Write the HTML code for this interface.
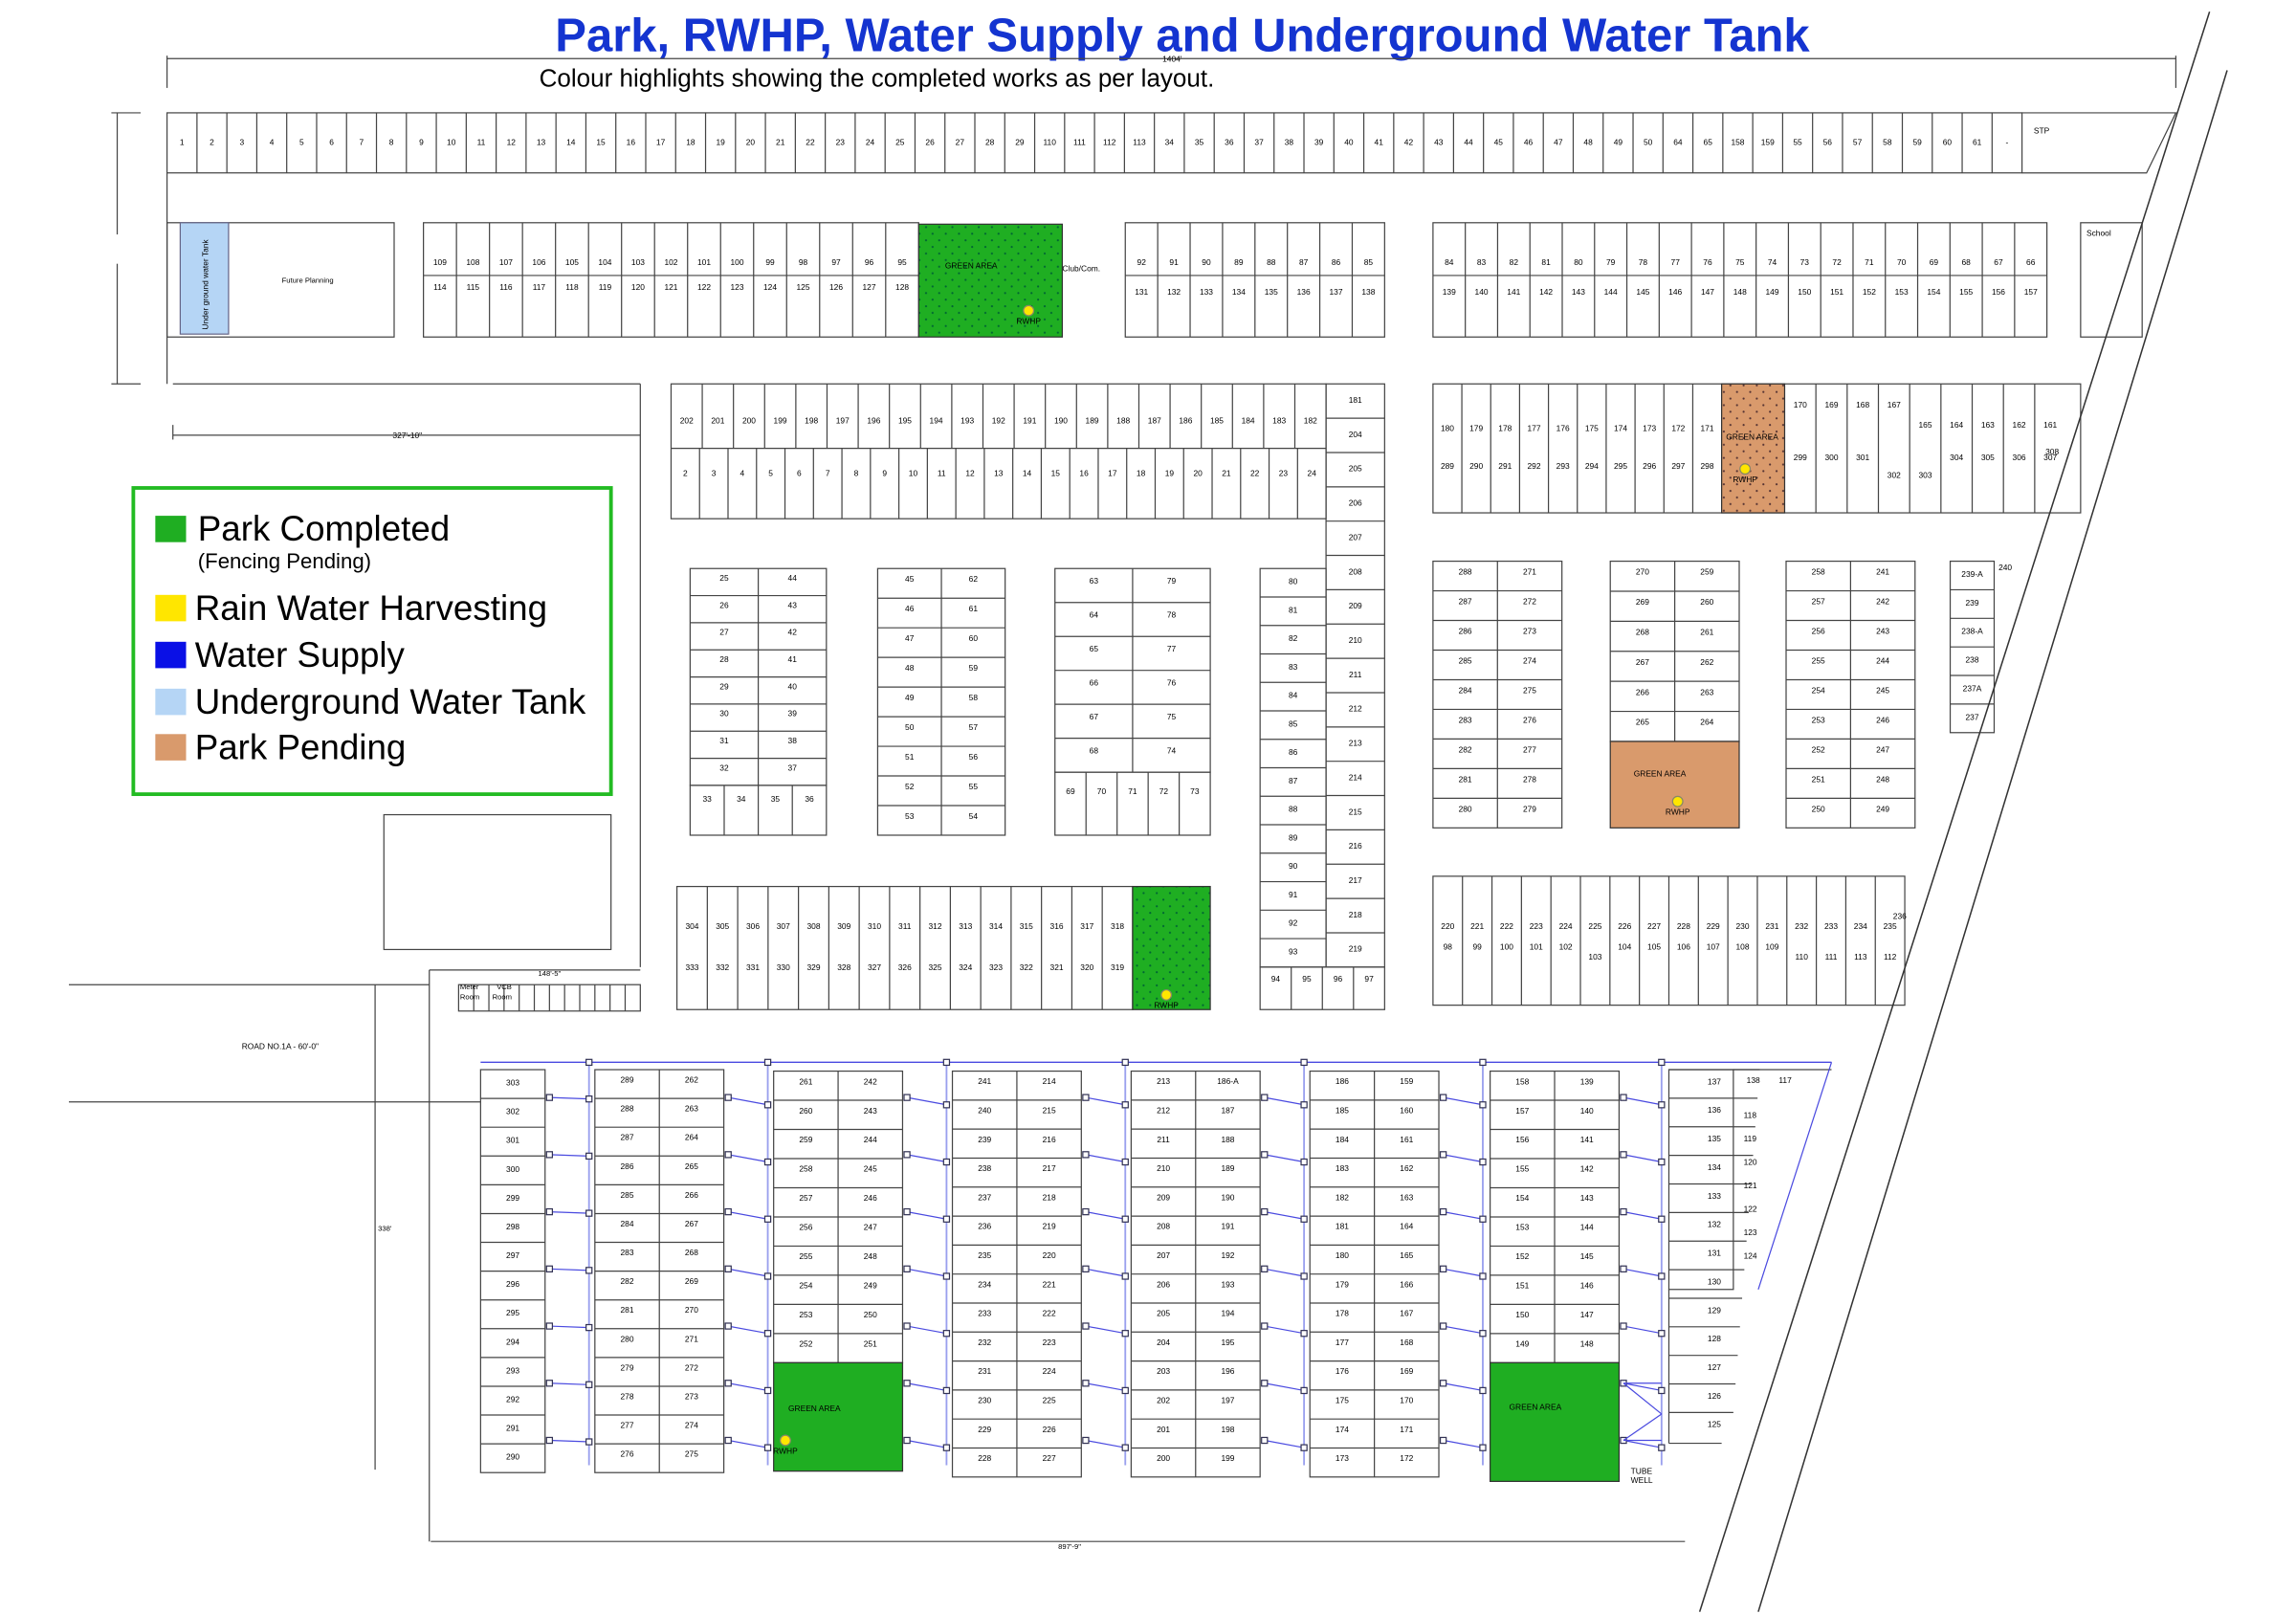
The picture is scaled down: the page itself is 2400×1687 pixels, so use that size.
<!DOCTYPE html>
<html><head><meta charset="utf-8"><style>
html,body{margin:0;padding:0;background:#fff;width:2400px;height:1687px;overflow:hidden}
svg{display:block}
text{font-family:"Liberation Sans",Arial,sans-serif}
</style></head><body>
<svg id="s" xmlns="http://www.w3.org/2000/svg" width="2400" height="1687" viewBox="0 0 1567 1101.5" preserveAspectRatio="none" overflow="hidden">
<defs>
<pattern id="dots" width="9" height="9" patternUnits="userSpaceOnUse"><rect width="9" height="9" fill="#1fae22"/><circle cx="2" cy="2" r="0.7" fill="#063"/><circle cx="6.5" cy="6.5" r="0.7" fill="#063"/></pattern>
<pattern id="odots" width="9" height="9" patternUnits="userSpaceOnUse"><rect width="9" height="9" fill="#d99a6c"/><circle cx="2" cy="2" r="0.7" fill="#533"/><circle cx="6.5" cy="6.5" r="0.7" fill="#533"/></pattern>
</defs>
<rect width="1567" height="1101" fill="#fff"/>
<text x="807" y="35" text-anchor="middle" font-size="32" font-weight="bold" fill="#1434d0">Park, RWHP, Water Supply and Underground Water Tank</text>
<text x="368" y="59" font-size="17" fill="#000">Colour highlights showing the completed works as per layout.</text>
<g id="g" stroke="#444" stroke-width="0.8" fill="none"></g>
<g id="t" font-size="5.5" fill="#000"></g>
<rect x="91" y="333" width="326" height="209" fill="#fff" stroke="#22bb22" stroke-width="2.5"/>
<rect x="106" y="352" width="21" height="18" fill="#1fae22"/>
<text x="135" y="369" font-size="24">Park Completed</text>
<text x="135" y="388" font-size="14.5">(Fencing Pending)</text>
<rect x="106" y="406" width="21" height="18" fill="#ffe600"/>
<text x="133" y="423" font-size="24">Rain Water Harvesting</text>
<rect x="106" y="438" width="21" height="18" fill="#0a10e6"/>
<text x="133" y="455" font-size="24">Water Supply</text>
<rect x="106" y="470" width="21" height="18" fill="#b5d5f5"/>
<text x="133" y="487" font-size="24">Underground Water Tank</text>
<rect x="106" y="501" width="21" height="18" fill="#d99a6c"/>
<text x="133" y="518" font-size="24">Park Pending</text>
</svg>
<script>
var NS="http://www.w3.org/2000/svg",G=document.getElementById('g'),T=document.getElementById('t');
function el(p,n,a){var e=document.createElementNS(NS,n);for(var k in a)e.setAttribute(k,a[k]);p.appendChild(e);return e}
function R(x,y,w,h,f,s){return el(G,'rect',{x:x,y:y,width:w,height:h,fill:f||'none',stroke:s||'#444'})}
function L(x1,y1,x2,y2,c,w){return el(G,'line',{x1:x1,y1:y1,x2:x2,y2:y2,stroke:c||'#444','stroke-width':w||0.8})}
function X(x,y,s,sz,anc){var e=el(T,'text',{x:x,y:y,'font-size':sz||5.5});if(anc)e.setAttribute('text-anchor',anc);e.textContent=s;return e}
function rng(a,b){var r=[];if(a<=b)for(var i=a;i<=b;i++)r.push(i);else for(var i=a;i>=b;i--)r.push(i);return r}
function hrow(x,y,w,h,labs,ty){var cw=w/labs.length;R(x,y,w,h);for(var i=0;i<labs.length;i++){if(i)L(x+i*cw,y,x+i*cw,y+h);X(x+i*cw+cw/2,ty,labs[i],5.5,'middle')}}
function vblock(x,y,w,h,left,right){var n=left.length,rh=h/n;R(x,y,w,h);L(x+w/2,y,x+w/2,y+h);for(var i=0;i<n;i++){if(i)L(x,y+i*rh,x+w,y+i*rh);X(x+w/4,y+i*rh+rh*0.45,left[i],5.5,'middle');if(right&&right[i]!==undefined)X(x+3*w/4,y+i*rh+rh*0.45,right[i],5.5,'middle')}}
function vcol(x,y,w,h,labs){var n=labs.length,rh=h/n;R(x,y,w,h);for(var i=0;i<n;i++){if(i)L(x,y+i*rh,x+w,y+i*rh);X(x+w/2,y+i*rh+rh*0.55,labs[i],5.5,'middle')}}
function green(x,y,w,h,fill,rx,ry,lab,lx,ly){R(x,y,w,h,fill,'#333');X(lx,ly,lab||'GREEN AREA',5.5);el(G,'circle',{cx:rx,cy:ry,r:3.5,fill:'#ffe600',stroke:'#886'});X(rx,ry+9,'RWHP',5.5,'middle')}

L(114,40,1485,40);L(114,38,114,60);L(1485,38,1485,60);X(800,42,"1404'",5.5,'middle');
var topRow=rng(1,29).concat([110,111,112,113,34,35,36,37,38,39,40,41,42,43,44,45,46,47,48,49,50,64,65,158,159,55,56,57,58,59,60,61,'-']);
hrow(114,77,1266,41,topRow,99);
el(G,'path',{d:'M1380 77 L1485 77 L1465 118 L1380 118'});X(1388,91,'STP');
L(114,118,114,262);L(80,77,80,160);L(80,180,80,262);L(76,77,96,77);L(76,262,96,262);
R(114,152,155,78);R(123,152,33,76,'#b5d5f5','#668');
var tt=X(0,0,'Under ground water Tank',5.5);tt.setAttribute('transform','translate(142,225) rotate(-90)');
X(210,193,'Future Planning',5,'middle');
var b1=rng(109,95),b2=rng(114,128);
R(289,152,338,78);var cw=338/15;for(var i=0;i<15;i++){if(i)L(289+i*cw,152,289+i*cw,230);X(289+i*cw+cw/2,181,b1[i],5.5,'middle');X(289+i*cw+cw/2,198,b2[i],5.5,'middle')}L(289,188,627,188);
green(627,153,98,77,'url(#dots)',702,212,'GREEN AREA',645,183);X(725,185,'Club/Com.');
function tb(x,w,a,b){var n=a.length,cw=w/n;R(x,152,w,78);L(x,188,x+w,188);for(var i=0;i<n;i++){if(i)L(x+i*cw,152,x+i*cw,230);X(x+i*cw+cw/2,181,a[i],5.5,'middle');X(x+i*cw+cw/2,201,b[i],5.5,'middle')}}
tb(768,177,rng(92,85),rng(131,138));
tb(978,419,[84,83,82,81,80,79,78,77,76,75,74,73,72,71,70,69,68,67,66],rng(139,157));
R(1420,152,42,78);X(1424,161,'School');
L(118,262,437,262);L(437,262,437,660);L(118,297,437,297);L(118,290,118,300);X(278,299,"327'-10\"",5.5,'middle');
R(262,556,155,92);
var a=[202,201,200,199,198,197,196,195,194,193,192,191,190,189,188,187,186,185,184,183,182];
R(458,262,447,92);var cw=447/21;for(var i=0;i<21;i++){if(i)L(458+i*cw,262,458+i*cw,306);X(458+i*cw+cw/2,289,a[i],5.5,'middle')}
L(458,306,905,306);var bb=rng(2,24),cw2=447/23;for(var i=0;i<23;i++){if(i)L(458+i*cw2,306,458+i*cw2,354);X(458+i*cw2+cw2/2,325,bb[i],5.5,'middle')}
vcol(905,262,40,398,[181].concat(rng(204,219)));
R(978,262,442,88);var l1=[180,179,178,177,176,175,174,173,172,171],l2=[289,290,291,292,293,294,295,296,297,298];
var cw=197/10;for(var i=0;i<10;i++){if(i)L(978+i*cw,262,978+i*cw,350);X(978+i*cw+cw/2,294,l1[i],5.5,'middle');X(978+i*cw+cw/2,320,l2[i],5.5,'middle')}
var r1=[170,169,168,167,165,164,163,162,161],r2=[299,300,301,302,303,304,305,306,307];var cw=192/9;
for(var i=0;i<9;i++){if(i)L(1218+i*cw,262,1218+i*cw,350);X(1218+i*cw+cw/2,i<4?278:292,r1[i],5.5,'middle');X(1218+i*cw+cw/2,i==3||i==4?326:314,r2[i],5.5,'middle')}
green(1175,262,43,88,'url(#odots)',1191,320,'GREEN AREA',1178,300);X(1396,310,'308');
vblock(471,388,93,148,rng(25,32),rng(44,37));hrow(471,536,93,34,[33,34,35,36],547);
vblock(599,388,87,182,rng(45,53),rng(62,54));
vblock(720,388,106,139,rng(63,68),rng(79,74));hrow(720,527,106,43,[69,70,71,72,73],542);
vcol(860,388,45,272,rng(80,93));hrow(860,660,85,29,[94,95,96,97],670);
vblock(978,383,88,182,rng(288,280),rng(271,279));
vblock(1099,383,88,123,rng(270,265),rng(259,264));
green(1099,506,88,59,'#d99a6c',1145,547,'GREEN AREA',1115,530);
vblock(1219,383,88,182,rng(258,250),rng(241,249));
vcol(1331,383,30,117,['239-A','239','238-A','238','237A','237']);X(1364,389,'240');
(function(){var a=rng(304,318),b=rng(333,319),x=462,w=311,cw=w/15;R(x,605,w,84);for(var i=0;i<15;i++){if(i)L(x+i*cw,605,x+i*cw,689);X(x+i*cw+cw/2,634,a[i],5.5,'middle');X(x+i*cw+cw/2,662,b[i],5.5,'middle')}})();
green(773,605,53,84,'url(#dots)',796,679,'',0,0);
(function(){var a=rng(220,235),b=[98,99,100,101,102,103,104,105,106,107,108,109,110,111,113,112],x=978,w=322,cw=w/16;R(x,598,w,88);for(var i=0;i<16;i++){if(i)L(x+i*cw,598,x+i*cw,686);X(x+i*cw+cw/2,634,a[i],5.5,'middle');X(x+i*cw+cw/2,i==5||i>=12?655:648,b[i],5.5,'middle')}X(1292,627,'236');})();
hrow(313,672,124,18,['','','','','','','','','','','',''],684);L(293,662,437,662);X(375,666,"148'-5\"",5,'middle');
X(314,675,'Meter',5);X(314,682,'Room',5);X(339,675,'VCB',5);X(336,682,'Room',5);
L(47,672,293,672);L(47,752,328,752);L(293,662,293,1052);X(165,716,'ROAD NO.1A - 60\'-0"',5.5);
L(256,672,256,1003);X(258,840,"338'",5);
L(294,1052,1150,1052);X(730,1057,"897'-9\"",5,'middle');
L(1160,1100,1508,8,'#333',1);L(1200,1100,1520,48,'#333',1);
vcol(328,730,44,275,rng(303,290));
vblock(406,730,88,275,rng(289,276),rng(262,275));
vblock(528,731,88,199,rng(261,252),rng(242,251));green(528,930,88,74,'#1fae22',536,983,'GREEN AREA',538,963);
vblock(650,731,88,277,rng(241,228),rng(214,227));
vblock(772,731,88,277,rng(213,200),['186-A'].concat(rng(187,199)));
vblock(894,731,88,277,rng(186,173),rng(159,172));
vblock(1017,731,88,199,rng(158,149),rng(139,148));green(1017,930,88,81,'#1fae22',0,-50,'GREEN AREA',1030,962);
X(1113,1006,'TUBE');X(1113,1012,'WELL');
(function(){var x=1139,y=730,ls=[137,136,135,134,133,132,131,130,129,128,127,126,125];R(x,y,44,150);for(var i=0;i<13;i++){var yy=y+i*19.5;L(x,yy,x+62-i*1.5,yy);X(x+31,yy+10,ls[i],5.5,'middle')}
L(1183,730,1250,730);var rs=[138,117,118,119,120,121,122,123,124];for(var i=0;i<9;i++)X(i<2?1192+i*22:1190,i<2?739:(763+(i-2)*16),rs[i],5.5);L(1139,880,1139,985);L(1139,985,1175,985);})();
var B='#4a4ae0';L(328,725,1250,725,B,0.9);
var vx=[402,524,646,768,890,1012,1134];
vx.forEach(function(v){L(v,725,v,1000,'#9aa0ee',1.2);el(G,'rect',{x:v-2,y:723,width:4,height:4,fill:'#fff',stroke:'#335'});});
var starts=[375,497,619,741,863,985,1108];
for(var c=0;c<7;c++){for(var k=0;k<7;k++){var y=749+k*39;var sx=starts[c];
L(sx,y,vx[c],y+(c==0?1:5),B,0.8);el(G,'rect',{x:sx-2,y:y-2,width:4,height:4,fill:'#fff',stroke:'#335'});el(G,'rect',{x:vx[c]-2,y:y+(c==0?-1:3),width:4,height:4,fill:'#fff',stroke:'#335'});}}
L(1250,725,1200,880,B,0.8);L(1108,944,1134,944,B);L(1108,983,1134,983,B);L(1108,944,1134,965,B);L(1108,983,1134,965,B);
</script>
</body></html>
